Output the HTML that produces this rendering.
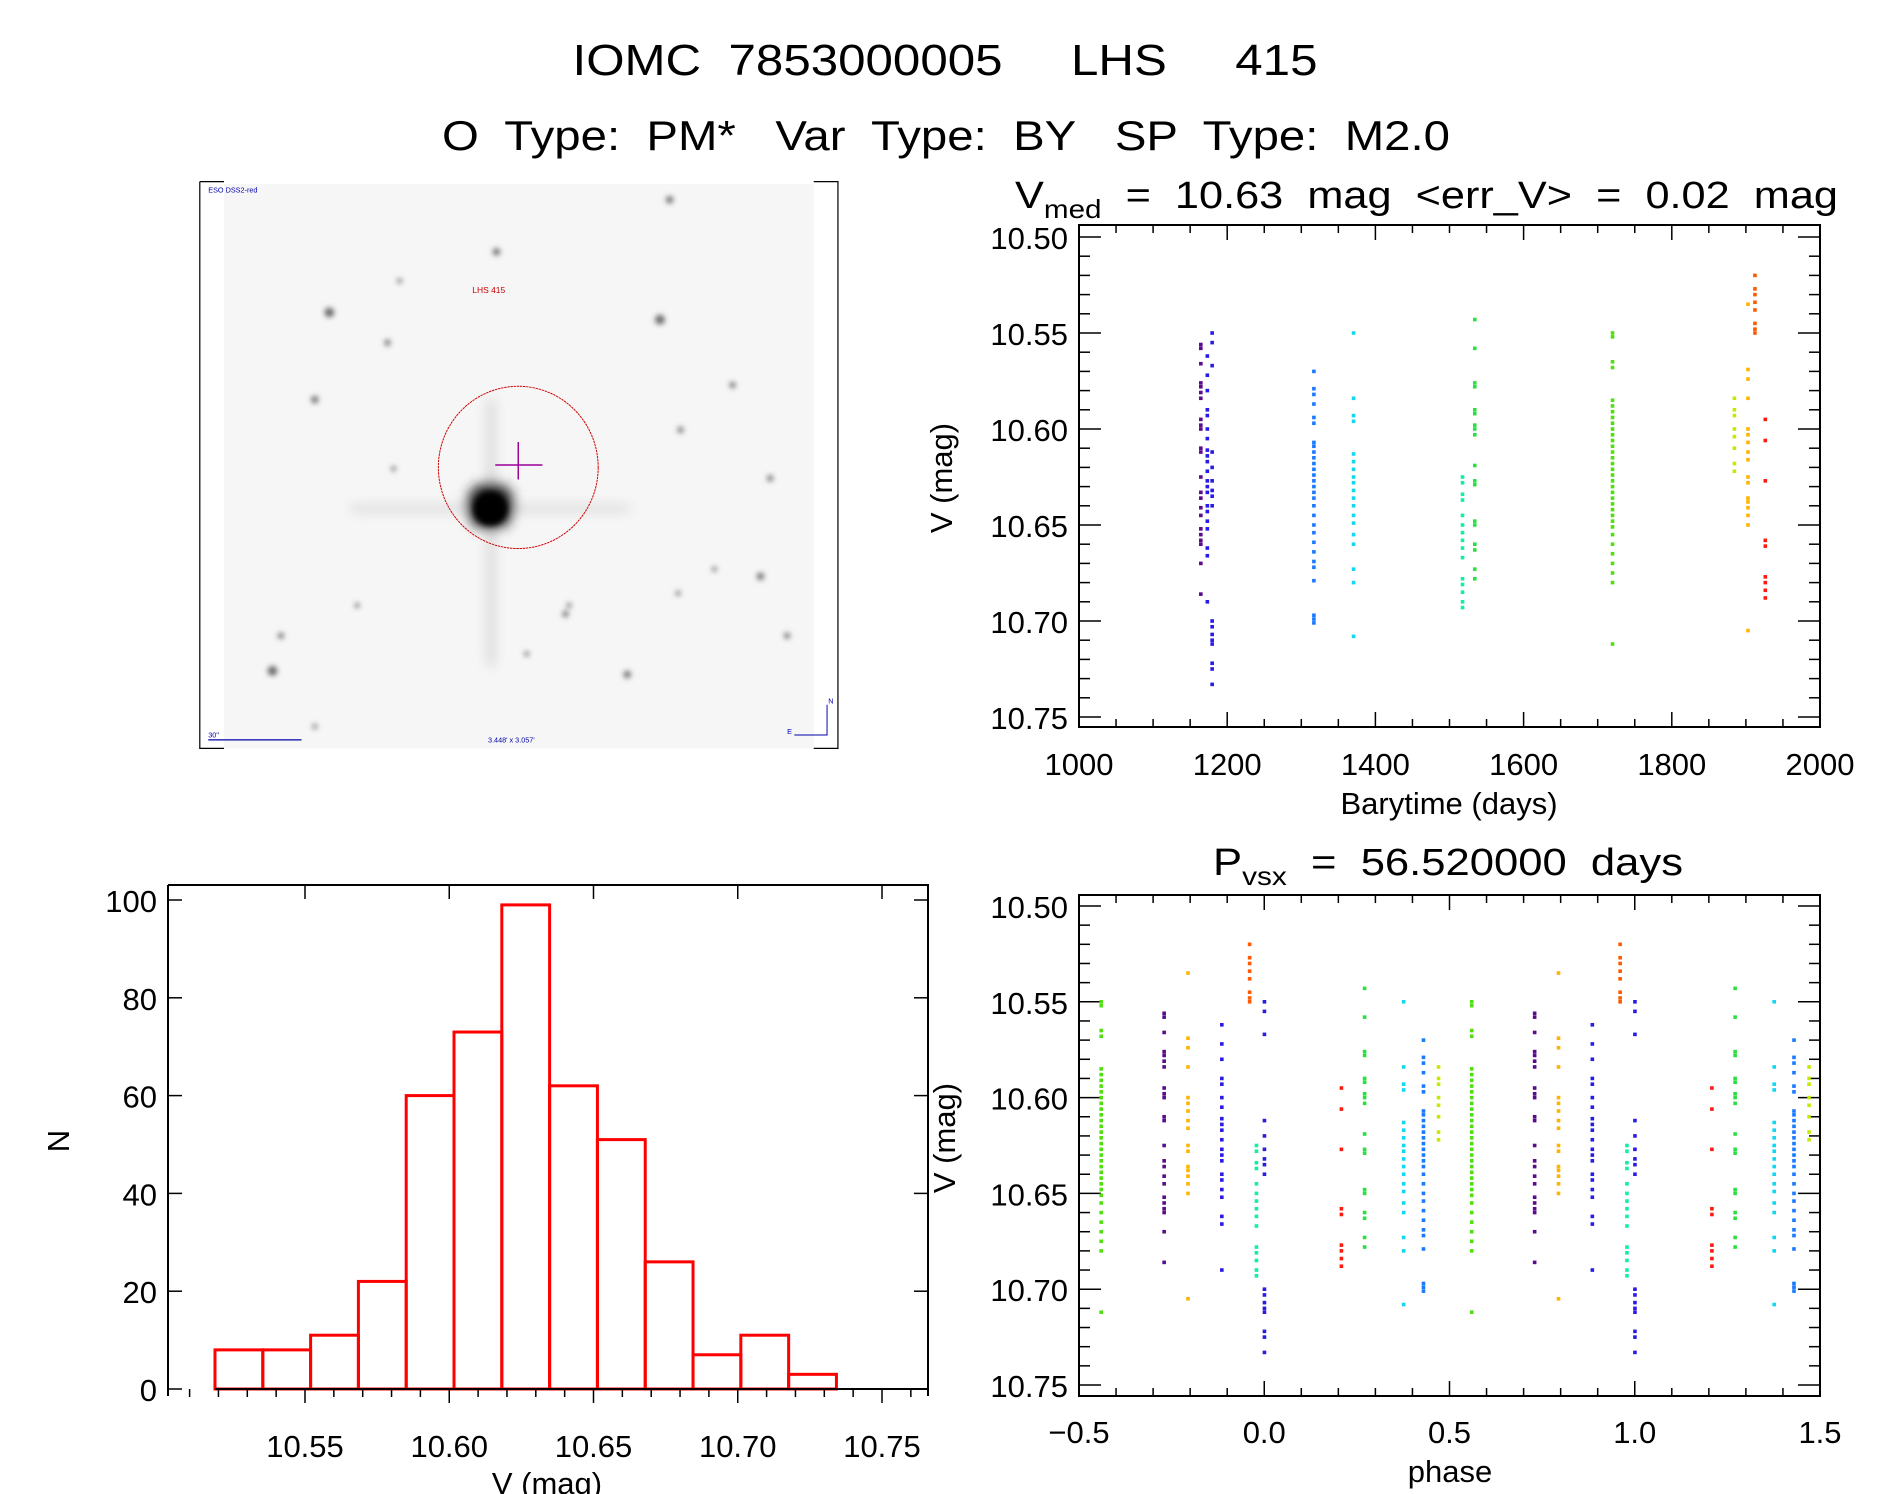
<!DOCTYPE html>
<html><head><meta charset="utf-8"><style>
html,body{margin:0;padding:0;background:#fff}
svg{display:block}
text{font-family:"Liberation Sans",sans-serif;fill:#000;white-space:pre}
</style></head><body>
<svg id="root" width="1889" height="1494" viewBox="0 0 1889 1494" xmlns="http://www.w3.org/2000/svg">
<defs><filter id="bl" x="-2" y="-2" width="5" height="5"><feGaussianBlur stdDeviation="2.2"/></filter>
<filter id="bl2" x="-1" y="-1" width="3" height="3"><feGaussianBlur stdDeviation="5"/></filter></defs>
<g>
<text x="945" y="75" font-size="44" text-anchor="middle" textLength="745" lengthAdjust="spacingAndGlyphs" xml:space="preserve">IOMC  7853000005     LHS     415</text>
<text x="946" y="150" font-size="42" text-anchor="middle" textLength="1008" lengthAdjust="spacingAndGlyphs" xml:space="preserve">O  Type:  PM*   Var  Type:  BY   SP  Type:  M2.0</text>
</g>
<g id="img" transform="scale(1.2109)">
<rect x="185" y="152" width="487" height="466" fill="#f6f6f6"/>
<g id="stars" filter="url(#bl)" fill="#666"></g>
<g filter="url(#bl2)"><rect x="403" y="330" width="5" height="220" fill="#ccc"/><rect x="290" y="418" width="230" height="4" fill="#ccc"/><circle cx="405" cy="418" r="20" fill="#222"/></g>
<circle cx="405" cy="420" r="14" fill="#000" filter="url(#bl)"/>
<ellipse cx="428" cy="386" rx="66" ry="67" fill="none" stroke="#c00" stroke-width="0.8" stroke-dasharray="2 0.6"/>
<path d="M428 365V396M409 384H448" stroke="#909" stroke-width="1.2"/>
<text x="390" y="242" font-size="7" style="fill:#c00">LHS 415</text>
<text x="172" y="159" font-size="6" style="fill:#00a">ESO DSS2-red</text>
<text x="172" y="609" font-size="6" style="fill:#00a">30"</text>
<path d="M172 611H249" stroke="#00a" stroke-width="1"/>
<text x="403" y="613" font-size="6" style="fill:#00a">3.448' x 3.057'</text>
<path d="M656 607H683V582" stroke="#00a" stroke-width="0.8" fill="none"/>
<text x="684" y="581" font-size="6" style="fill:#00a">N</text><text x="650" y="606" font-size="6" style="fill:#00a">E</text>
<path d="M165 150V618H185M165 150H185M672 150H692V618H672" stroke="#000" stroke-width="1" fill="none"/>
</g>
<g id="lc"></g>
<g id="ph"></g>
<g id="hist"></g>
</svg>
<script>
// ===== data =====
const period = 56.52;
const epoch = 1688.35;
const groupTimes = [1164.4, 1173.2, 1179.7, 1317.0, 1370.5, 1517.6, 1534.1, 1720.0, 1884.5, 1902.8, 1912.2, 1926.2];
const groupColors = ["#5a0a8a","#2a1ae6","#2a1ae6","#1a7aff","#10d8f0","#10f0a0","#28e040","#50e010","#c8e800","#ffb400","#ff5a00","#ff1a10"];
const g0 = [10.556,10.558,10.566,10.576,10.578,10.581,10.584,10.595,10.598,10.600,10.610,10.612,10.625,10.633,10.636,10.641,10.645,10.652,10.655,10.658,10.660,10.670,10.686];
const g1 = [10.562,10.572,10.580,10.590,10.593,10.600,10.605,10.611,10.614,10.617,10.622,10.627,10.630,10.633,10.640,10.643,10.648,10.652,10.662,10.666,10.690];
const g2 = [10.550,10.555,10.567,10.612,10.620,10.627,10.632,10.635,10.640,10.700,10.703,10.707,10.710,10.712,10.722,10.725,10.733];
const g3 = [10.570,10.579,10.582,10.587,10.594,10.597,10.607,10.609,10.612,10.615,10.618,10.621,10.624,10.627,10.630,10.633,10.636,10.640,10.645,10.650,10.654,10.659,10.664,10.669,10.672,10.679,10.697,10.699,10.701];
const g4 = [10.550,10.584,10.593,10.596,10.613,10.617,10.621,10.625,10.628,10.632,10.636,10.640,10.645,10.649,10.655,10.660,10.673,10.680,10.708];
const g5 = [10.625,10.628,10.634,10.637,10.645,10.650,10.654,10.658,10.662,10.667,10.678,10.681,10.685,10.690,10.693];
const g6 = [10.543,10.558,10.576,10.578,10.590,10.592,10.598,10.600,10.603,10.619,10.627,10.629,10.648,10.650,10.660,10.663,10.673,10.678];
const g7 = [10.550,10.552,10.565,10.568,10.585,10.588,10.591,10.594,10.597,10.600,10.603,10.606,10.609,10.612,10.615,10.618,10.621,10.624,10.627,10.630,10.633,10.636,10.639,10.642,10.645,10.648,10.651,10.655,10.660,10.665,10.670,10.675,10.680,10.712];
const g8 = [10.584,10.590,10.593,10.600,10.604,10.610,10.618,10.622];
const g9 = [10.535,10.569,10.574,10.584,10.600,10.603,10.607,10.612,10.616,10.625,10.628,10.636,10.638,10.641,10.645,10.650,10.705];
const g10 = [10.520,10.527,10.530,10.534,10.538,10.545,10.548,10.550];
const g11 = [10.595,10.606,10.627,10.658,10.661,10.677,10.680,10.684,10.688];
const groupMags = [g0,g1,g2,g3,g4,g5,g6,g7,g8,g9,g10,g11];
const timeTicks = [1000,1200,1400,1600,1800,2000];
const magTicks = [10.50,10.55,10.60,10.65,10.70,10.75];
const phaseTicks = [-0.5,0.0,0.5,1.0,1.5];
const histCounts = [8,8,11,22,60,73,99,62,51,26,7,11,3];
const histBinStart = 10.5188;
const histBinWidth = 0.01657;
const histXTicks = [10.55,10.60,10.65,10.70,10.75];
const histYTicks = [0,20,40,60,80,100];

const NS="http://www.w3.org/2000/svg";
function mk(parent,tag,attrs){const e=document.createElementNS(NS,tag);for(const k in attrs)e.setAttribute(k,attrs[k]);parent.appendChild(e);return e;}
function txt(parent,x,y,s,size,anchor){const t=mk(parent,'text',{x:x,y:y,'font-size':size,'text-anchor':anchor||'middle'});t.textContent=s;return t;}

const starPos=[[272,258,4],[545,264,4],[260,330,3],[320,283,2.5],[410,208,3],[553,165,3],[605,318,2.5],[562,355,2.5],[636,395,2.5],[628,476,3],[225,554,4],[232,525,2.5],[518,557,3],[467,507,2.5],[560,490,2],[325,387,2],[650,525,2.5],[295,500,2],[470,500,2],[590,470,2],[435,540,2],[260,600,2],[330,232,2]];
const sg=document.getElementById('stars');
starPos.forEach(p=>mk(sg,'circle',{cx:p[0],cy:p[1],r:p[2]}));

function frame(g,L,R,T,B){mk(g,'rect',{x:L,y:T,width:R-L,height:B-T,fill:'none',stroke:'#000','stroke-width':2});}

// ===== light curve =====
(function(){
 const g=document.getElementById('lc');
 const L=1079,R=1820,T=225,B=727;
 const xs=t=>L+(t-1000)/1000*(R-L);
 const ys=m=>237+(m-10.50)/0.25*480;
 frame(g,L,R,T,B);
 for(let t=1000;t<=2000;t+=50){const maj=t%200===0;const len=maj?15:8;const x=xs(t);
  mk(g,'line',{x1:x,y1:B,x2:x,y2:B-len,stroke:'#000','stroke-width':1.5});
  mk(g,'line',{x1:x,y1:T,x2:x,y2:T+len,stroke:'#000','stroke-width':1.5});}
 for(let i=0;i<=25;i++){const m=10.50+i*0.01;const maj=i%5===0;const len=maj?22:11;const y=ys(m);
  mk(g,'line',{x1:L,y1:y,x2:L+len,y2:y,stroke:'#000','stroke-width':1.5});
  mk(g,'line',{x1:R,y1:y,x2:R-len,y2:y,stroke:'#000','stroke-width':1.5});}
 timeTicks.forEach(t=>{const e=txt(g,xs(t),775,String(t),31);});
 magTicks.forEach(m=>{const e=txt(g,1068,ys(m)+12,m.toFixed(2),31,'end');});
 const xl=txt(g,1449,814,'Barytime (days)',31);
 
 
 const yl=txt(g,0,0,'V (mag)',31);yl.setAttribute('transform','translate(952,478) rotate(-90)');
 
 
 const tt=mk(g,'text',{x:1015,y:208,'font-size':38});
 
 
 tt.innerHTML='V<tspan font-size="26" dy="10">med</tspan><tspan dy="-10">  =  10.63  mag  &lt;err_V&gt;  =  0.02  mag</tspan>';
 tt.setAttribute('textLength','823');tt.setAttribute('lengthAdjust','spacingAndGlyphs');
 groupMags.forEach((arr,gi)=>{arr.forEach(m=>{const r=mk(g,'rect',{x:xs(groupTimes[gi])-1.8,y:ys(m)-1.8,width:3.6,height:3.6,fill:groupColors[gi]});
  
  });});
})();

// ===== phase plot =====
(function(){
 const g=document.getElementById('ph');
 const L=1079,R=1820,T=895,B=1396;
 const xs=p=>L+(p+0.5)/2*(R-L);
 const ys=m=>906+(m-10.50)/0.25*479;
 frame(g,L,R,T,B);
 for(let i=0;i<=20;i++){const p=-0.5+i*0.1;const maj=i%5===0;const len=maj?15:8;const x=xs(p);
  mk(g,'line',{x1:x,y1:B,x2:x,y2:B-len,stroke:'#000','stroke-width':1.5});
  mk(g,'line',{x1:x,y1:T,x2:x,y2:T+len,stroke:'#000','stroke-width':1.5});}
 for(let i=0;i<=25;i++){const m=10.50+i*0.01;const maj=i%5===0;const len=maj?22:11;const y=ys(m);
  mk(g,'line',{x1:L,y1:y,x2:L+len,y2:y,stroke:'#000','stroke-width':1.5});
  mk(g,'line',{x1:R,y1:y,x2:R-len,y2:y,stroke:'#000','stroke-width':1.5});}
 phaseTicks.forEach(p=>{const e=txt(g,xs(p),1443,(p<0?'\u22120.5':p.toFixed(1)),31);});
 magTicks.forEach(m=>{const e=txt(g,1068,ys(m)+12,m.toFixed(2),31,'end');});
 const xl=txt(g,1450,1482,'phase',31);
 
 
 const yl=txt(g,0,0,'V (mag)',31);yl.setAttribute('transform','translate(955,1138) rotate(-90)');
 
 
 const tt=mk(g,'text',{x:1213,y:875,'font-size':38});
 
 
 tt.innerHTML='P<tspan font-size="26" dy="10">vsx</tspan><tspan dy="-10">  =  56.520000  days</tspan>';
 tt.setAttribute('textLength','470');tt.setAttribute('lengthAdjust','spacingAndGlyphs');
 groupMags.forEach((arr,gi)=>{let ph=((groupTimes[gi]-epoch)/period)%1;if(ph<0)ph+=1;
  [ph-1,ph,ph+1].forEach(p=>{if(p<-0.5||p>1.5)return;
   arr.forEach(m=>{const r=mk(g,'rect',{x:xs(p)-1.8,y:ys(m)-1.8,width:3.6,height:3.6,fill:groupColors[gi]});
    
    });});});
})();

// ===== histogram =====
(function(){
 const g=document.getElementById('hist');
 const L=168,R=928,T=885,B=1396;
 const xs=v=>305+(v-10.55)*2885;
 const ys=n=>1389-n*4.89;
 histCounts.forEach((c,i)=>{const x0=xs(histBinStart+i*histBinWidth),x1=xs(histBinStart+(i+1)*histBinWidth);
  const r=mk(g,'rect',{x:x0,y:ys(c),width:x1-x0,height:ys(0)-ys(c),fill:'none',stroke:'#f00','stroke-width':3});
  
  });
 mk(g,'line',{x1:xs(histBinStart),y1:ys(0),x2:R,y2:ys(0),stroke:'#000','stroke-width':2});
 mk(g,'path',{d:`M${L} ${T}V${B}M${L} ${T}H${R}V${B}`,fill:'none',stroke:'#000','stroke-width':2});
 for(let i=1;i<=26;i++){const v=10.50+i*0.01;const x=xs(v);if(x>R)break;const maj=Math.abs(v*100-Math.round(v*20)*5)<0.01;
  mk(g,'line',{x1:x,y1:ys(0),x2:x,y2:ys(0)+(maj?14:8),stroke:'#000','stroke-width':1.5});
  if(maj) mk(g,'line',{x1:x,y1:T,x2:x,y2:T+14,stroke:'#000','stroke-width':1.5});}
 histYTicks.forEach(n=>{const y=ys(n);
  mk(g,'line',{x1:L,y1:y,x2:L+14,y2:y,stroke:'#000','stroke-width':1.5});
  mk(g,'line',{x1:R,y1:y,x2:R-14,y2:y,stroke:'#000','stroke-width':1.5});
  const e=txt(g,157,y+12,String(n),31,'end');});
 histXTicks.forEach(v=>{const e=txt(g,xs(v),1457,v.toFixed(2),31);});
 const xl=txt(g,547,1494,'V (mag)',31);
 
 
 const yl=txt(g,0,0,'N',31);yl.setAttribute('transform','translate(69,1141) rotate(-90)');
 
 
})();
</script>
</body></html>
